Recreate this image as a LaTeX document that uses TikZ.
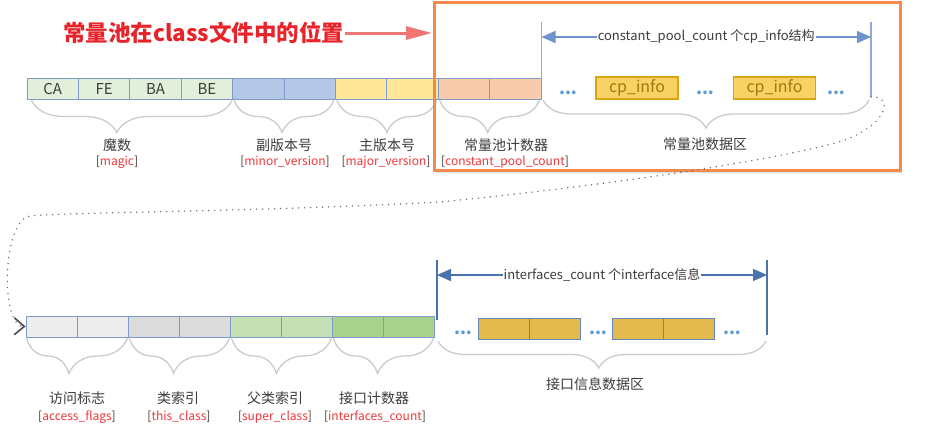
\documentclass[tikz,border=0pt]{standalone}
\usepackage{fontspec}
\setmainfont{Noto Sans CJK SC}
\usepackage{tikz}
\usetikzlibrary{arrows.meta,decorations.pathreplacing,shadows}
\definecolor{cellln}{HTML}{7F9CC8}
\definecolor{magicc}{HTML}{E2EFDA}
\definecolor{minorc}{HTML}{B4C7E7}
\definecolor{majorc}{HTML}{FFE699}
\definecolor{cpcc}{HTML}{F8CBAD}
\definecolor{accc}{HTML}{EDEDED}
\definecolor{thisc}{HTML}{DBDBDB}
\definecolor{superc}{HTML}{C5E0B4}
\definecolor{ifcc}{HTML}{A9D18E}
\definecolor{cpinfoc}{HTML}{FAD264}
\definecolor{cpinfoln}{HTML}{D9A514}
\definecolor{cpinfotx}{HTML}{9C7A14}
\definecolor{ifacec}{HTML}{E3BA4E}
\definecolor{ifaceln}{HTML}{6485B8}
\definecolor{spanc}{HTML}{6F93CC}
\definecolor{spandk}{HTML}{4A72AC}
\definecolor{barc}{HTML}{8EAADB}
\definecolor{dotsc}{HTML}{5B9BD5}
\definecolor{bracec}{HTML}{C8CBCF}
\definecolor{tagred}{HTML}{F0363A}
\definecolor{titlered}{HTML}{E8242B}
\definecolor{titlearr}{HTML}{F07575}
\definecolor{frameor}{HTML}{F28B4B}
\definecolor{linkc}{HTML}{6E6E6E}
\definecolor{txtgray}{HTML}{3C3C3C}
\newcommand{\pxsize}[1]{\fontsize{#1}{#1}\selectfont}
\newcommand{\tagtx}[1]{[\textcolor{tagred}{#1}]}

\begin{document}
\begin{tikzpicture}[x=1pt,y=-1pt,>=Stealth,
  cell/.style={draw=cellln,line width=0.9pt,minimum width=51.4pt,minimum height=21pt,inner sep=0pt,font=\pxsize{15},text=txtgray},
  bcell/.style={cell,minimum width=51pt},
  brc/.style={decorate,draw=bracec,line width=1.3pt},
  lbl/.style={font=\pxsize{14},text=txtgray,inner sep=0pt},
  tag/.style={font=\pxsize{12},text=txtgray,inner sep=0pt},
  bar/.style={line width=1.8pt},
  span/.style={line width=1.5pt,>={Triangle[length=14pt,width=12pt]},<->},
  spanlbl/.style={fill=white,inner sep=1pt,font=\pxsize{13},text=txtgray},
  infobox/.style={draw=cpinfoln,fill=cpinfoc,line width=1.5pt,minimum width=82pt,minimum height=22pt,inner sep=0pt,font=\pxsize{16},text=cpinfotx},
  ifbox/.style={draw=ifaceln,fill=ifacec,line width=1pt,minimum width=51pt,minimum height=21pt,inner sep=0pt},
  gap/.style={text=dotsc,font=\pxsize{17}\bfseries,inner sep=0pt},
  link/.style={draw=linkc,line width=1.6pt,line cap=round,dash pattern=on 0pt off 6pt,
    -{Straight Barb[length=10pt,width=17pt,line width=1.6pt,color=black!70]}}]
\useasboundingbox (0,0) rectangle (932,432);
% white ground of the constant pool frame
\fill[white,drop shadow={shadow xshift=2pt,shadow yshift=-3pt,opacity=0.25}] (434,2) rectangle (900,170);

% title and its arrow
\node[font=\pxsize{22.5}\bfseries,text=titlered,inner sep=0pt,anchor=west] (title) at (63,33) {常量池在class文件中的位置};
\coordinate (titletip) at (432,33);
\draw[titlearr,line width=3pt,-{Triangle[length=26pt,width=13pt]}] (title.east) -- (titletip);

% first row: magic .. constant_pool_count
\foreach \i/\c/\t in {1/magicc/CA,2/magicc/FE,3/magicc/BA,4/magicc/BE,5/minorc/{},6/minorc/{},7/majorc/{},8/majorc/{},9/cpcc/{},10/cpcc/{}}
  \node[cell,fill=\c] (c\i) at ({27+51.4*(\i-0.5)},88.5) {\t};

\draw[brc,decoration={brace,amplitude=32pt,aspect=0.575}] ([xshift=-1pt,yshift=-1pt]c4.south east) -- ([xshift=5pt,yshift=-1pt]c1.south west);
\draw[brc,decoration={brace,amplitude=32pt,aspect=0.52}] ([xshift=-2pt,yshift=-1pt]c6.south east) -- ([xshift=2pt,yshift=-1pt]c5.south west);
\draw[brc,decoration={brace,amplitude=32pt,aspect=0.5}] ([xshift=-2pt,yshift=-1pt]c8.south east) -- ([xshift=2pt,yshift=-1pt]c7.south west);
\draw[brc,decoration={brace,amplitude=32pt,aspect=0.52}] ([xshift=-2pt,yshift=-1pt]c10.south east) -- ([xshift=2pt,yshift=-1pt]c9.south west);

\node[lbl] (magicL) at (117,145) {魔数};
\node[tag] (magicT) at (117,162) {\tagtx{magic}};
\node[lbl] (minorL) at (284,145) {副版本号};
\node[tag] (minorT) at (285,162) {\tagtx{minor\_version}};
\node[lbl] (majorL) at (387,145) {主版本号};
\node[tag] (majorT) at (386,162) {\tagtx{major\_version}};
\node[lbl] (cpcL) at (506,145) {常量池计数器};
\node[tag] (cpcT) at (505,162) {\tagtx{constant\_pool\_count}};

% constant pool data area
\coordinate (pl0) at (541.5,22); \coordinate (pl1) at (541.5,80);
\coordinate (pr0) at (871,22);   \coordinate (pr1) at (871,97);
\draw[bar,barc] (pl0) -- (pl1);
\draw[bar,barc] (pr0) -- (pr1);
\coordinate (pla) at (541.5,37); \coordinate (pra) at (871,37);
\draw[span,spanc] (pla) -- node[spanlbl] (pspan) {constant\_pool\_count 个cp\_info结构} (pra);

\node[infobox] (p1) at (637,88) {cp\_info};
\node[infobox] (p2) at (774.5,88) {cp\_info};
\node[gap] (g1) at (568,93) {...};
\node[gap] (g2) at (705,93) {...};
\node[gap] (g3) at (836,93) {...};
\draw[brc,decoration={brace,amplitude=28pt,aspect=0.5}] (869,100) -- (543,100);
\node[lbl] (poolL) at (705,144) {常量池数据区};

% frame on top
\draw[frameor,line width=3pt] (434,2) rectangle (900,170);

% second row: access_flags .. interfaces_count
\foreach \i/\c in {1/accc,2/accc,3/thisc,4/thisc,5/superc,6/superc,7/ifcc,8/ifcc}
  \node[bcell,fill=\c] (b\i) at ({26+51*(\i-0.5)},326.5) {};

\draw[brc,decoration={brace,amplitude=35pt,aspect=0.58}] ([xshift=-1pt,yshift=-1pt]b2.south east) -- ([xshift=1pt,yshift=-1pt]b1.south west);
\draw[brc,decoration={brace,amplitude=35pt,aspect=0.56}] ([xshift=-1pt,yshift=-1pt]b4.south east) -- ([xshift=2pt,yshift=-1pt]b3.south west);
\draw[brc,decoration={brace,amplitude=35pt,aspect=0.55}] ([xshift=-1pt,yshift=-1pt]b6.south east) -- ([xshift=2pt,yshift=-1pt]b5.south west);
\draw[brc,decoration={brace,amplitude=35pt,aspect=0.56}] ([xshift=-1pt,yshift=-1pt]b8.south east) -- ([xshift=2pt,yshift=-1pt]b7.south west);

\node[lbl] (accL) at (77,398) {访问标志};
\node[tag] (accT) at (77,417) {\tagtx{access\_flags}};
\node[lbl] (thisL) at (178,398) {类索引};
\node[tag] (thisT) at (179,417) {\tagtx{this\_class}};
\node[lbl] (superL) at (275,398) {父类索引};
\node[tag] (superT) at (275,417) {\tagtx{super\_class}};
\node[lbl] (ifcL) at (374,398) {接口计数器};
\node[tag] (ifcT) at (375,417) {\tagtx{interfaces\_count}};

% interfaces data area
\coordinate (il0) at (437,260); \coordinate (il1) at (437,320);
\coordinate (ir0) at (767,260); \coordinate (ir1) at (767,335);
\draw[bar,spandk] (il0) -- (il1);
\draw[bar,spandk] (ir0) -- (ir1);
\coordinate (ila) at (437,275); \coordinate (ira) at (767,275);
\draw[span,spandk] (ila) -- node[spanlbl] (ispan) {interfaces\_count 个interface信息} (ira);

\foreach \i/\x in {1/503.5,2/554.5,3/637.5,4/688.5}
  \node[ifbox] (f\i) at (\x,328.5) {};
\node[gap] (h1) at (463,333) {...};
\node[gap] (h2) at (598,333) {...};
\node[gap] (h3) at (732,333) {...};
\draw[brc,decoration={brace,amplitude=27pt,aspect=0.51}] (766,341) -- (438,341);
\node[lbl] (ifaceL) at (595,384) {接口信息数据区};

% dotted link from the pool area down to the second row
\draw[link] (pr1) .. controls (895,95) and (888,128) .. (835,143)
  .. controls (780,158) and (640,182) .. (440,202)
  .. controls (250,212) and (70,212) .. (30,216)
  .. controls (2,220) and (0,326) .. (b1.west);
\end{tikzpicture}
\end{document}
